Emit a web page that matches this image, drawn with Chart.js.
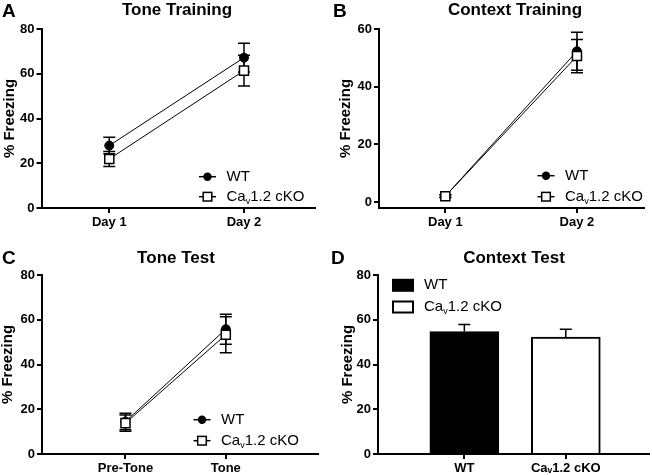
<!DOCTYPE html>
<html>
<head>
<meta charset="utf-8">
<script src="https://cdn.jsdelivr.net/npm/chart.js@4.4.0/dist/chart.umd.min.js"></script>
<style>
  body { margin: 0; background: #fff; }
  canvas { position: absolute; }
</style>
</head>
<body>
<canvas id="toneTraining" width="326" height="237" style="left:0;top:0"></canvas>
<canvas id="contextTraining" width="326" height="237" style="left:326px;top:0"></canvas>
<canvas id="toneTest" width="326" height="238" style="left:0;top:237px"></canvas>
<canvas id="contextTest" width="326" height="238" style="left:326px;top:237px"></canvas>
<script>
// data (mean, SEM)
const groupNames = ['WT', 'Ca\u1D651.2 cKO'];
const trainingDays = ['Day 1', 'Day 2'];
const testPhases = ['Pre-Tone', 'Tone'];

const toneTrainingWT = [27.9, 67.2];
const toneTrainingWTErr = [3.7, 6.4];
const toneTrainingKO = [21.9, 61.4];
const toneTrainingKOErr = [3.4, 6.9];

const contextTrainingWT = [2.0, 52.3];
const contextTrainingWTErr = [0.5, 6.6];
const contextTrainingKO = [2.0, 50.6];
const contextTrainingKOErr = [0.5, 5.8];

const toneTestWT = [14.5, 55.8];
const toneTestWTErr = [3.7, 6.7];
const toneTestKO = [13.8, 53.3];
const toneTestKOErr = [3.6, 8.0];

const contextTestMeans = [54.7, 52.3];
const contextTestErr = [3.2, 3.4];

const ticks80 = [0, 20, 40, 60, 80];
const ticks60 = [0, 20, 40, 60];

const FONT = "'Liberation Sans', Arial, Helvetica, sans-serif";
Chart.defaults.font.family = FONT;
Chart.defaults.color = '#000';
Chart.defaults.animation = false;
Chart.defaults.plugins.legend.display = false;
Chart.defaults.plugins.tooltip.enabled = false;

function toXY(vals) {
  return vals.map((v, i) => ({ x: i + 1, y: v }));
}

// label with the small "v" of Cav drawn as a subscript
function drawLabel(ctx, text, x, y, size) {
  const parts = text.split('\u1D65');
  ctx.textAlign = 'left';
  ctx.font = size + 'px ' + FONT;
  ctx.fillText(parts[0], x, y);
  if (parts.length < 2) return;
  x += ctx.measureText(parts[0]).width;
  ctx.font = Math.round(size * 0.62) + 'px ' + FONT;
  ctx.fillText('v', x, y + size * 0.3);
  x += ctx.measureText('v').width;
  ctx.font = size + 'px ' + FONT;
  ctx.fillText(parts[1], x, y);
}

const errorBars = {
  id: 'errorBars',
  beforeDatasetsDraw(chart) {
    const ctx = chart.ctx;
    const ys = chart.scales.y;
    ctx.save();
    ctx.strokeStyle = '#000';
    ctx.lineWidth = 1.5;
    chart.data.datasets.forEach((ds, i) => {
      if (!ds.errors) return;
      chart.getDatasetMeta(i).data.forEach((el, j) => {
        const v = ds.data[j].y;
        const e = ds.errors[j];
        const top = ys.getPixelForValue(v + e);
        const bot = ds.upOnly ? ys.getPixelForValue(v) : ys.getPixelForValue(v - e);
        ctx.beginPath();
        ctx.moveTo(el.x, top); ctx.lineTo(el.x, bot);
        ctx.moveTo(el.x - 6, top); ctx.lineTo(el.x + 6, top);
        if (!ds.upOnly) { ctx.moveTo(el.x - 6, bot); ctx.lineTo(el.x + 6, bot); }
        ctx.stroke();
      });
    });
    ctx.restore();
  }
};

const panelDecor = {
  id: 'panelDecor',
  afterDraw(chart, args, o) {
    const ctx = chart.ctx;
    ctx.save();
    ctx.fillStyle = '#000';
    ctx.strokeStyle = '#000';
    ctx.textBaseline = 'middle';
    ctx.textAlign = 'left';
    ctx.font = 'bold 19px ' + FONT;
    ctx.fillText(o.letter, o.letterX, o.letterY);
    ctx.textAlign = 'center';
    ctx.font = 'bold 17px ' + FONT;
    ctx.fillText(o.title, o.titleX, o.titleY);

    groupNames.forEach((name, i) => {
      const y = o.legendY + i * o.legendGap;
      if (o.boxes) {
        const ds = chart.data.datasets[0];
        ctx.fillStyle = ds.backgroundColor[i];
        ctx.fillRect(o.legendX, y - 5.5, 20, 11);
        ctx.lineWidth = 2;
        ctx.strokeRect(o.legendX, y - 5.5, 20, 11);
        ctx.fillStyle = '#000';
        drawLabel(ctx, name, o.legendX + 31, y, 15);
      } else {
        const ds = chart.data.datasets[i];
        const mx = o.legendX;
        ctx.lineWidth = 1.5;
        ctx.beginPath();
        ctx.moveTo(mx - 8.5, y); ctx.lineTo(mx + 8.5, y);
        ctx.stroke();
        if (ds.pointStyle === 'circle') {
          ctx.beginPath();
          ctx.arc(mx, y, 4.2, 0, Math.PI * 2);
          ctx.fill();
        } else {
          ctx.fillStyle = '#fff';
          ctx.fillRect(mx - 4.3, y - 4.3, 8.6, 8.6);
          ctx.strokeRect(mx - 4.3, y - 4.3, 8.6, 8.6);
          ctx.fillStyle = '#000';
        }
        drawLabel(ctx, name, mx + 19, y, 15);
      }
    });
    ctx.restore();
  }
};

function yAxis(min, max, tickValues, width, titlePad) {
  return {
    type: 'linear', min: min, max: max,
    afterBuildTicks: s => { s.ticks = tickValues.map(v => ({ value: v })); },
    afterFit: s => { s.width = width; },
    grid: { drawOnChartArea: false, tickLength: 5, color: '#000', lineWidth: 2 },
    border: { color: '#000', width: 2 },
    ticks: { font: { size: 13, weight: 'bold' }, color: '#000', padding: 2 },
    title: { display: true, text: '% Freezing', color: '#000',
             font: { size: 15, weight: 'bold', lineHeight: 1 },
             padding: { top: titlePad, bottom: 0 } }
  };
}

function xAxis(min, max, labels, height) {
  return {
    type: 'linear', min: min, max: max, offset: false,
    afterBuildTicks: s => { s.ticks = labels.map((_, i) => ({ value: i + 1 })); },
    afterFit: s => { s.height = height; },
    grid: { drawOnChartArea: false, offset: false, tickLength: 5, color: '#000', lineWidth: 2 },
    border: { color: '#000', width: 2 },
    ticks: { font: { size: 13, weight: 'bold' }, color: '#000', padding: 2,
             autoSkip: false, maxRotation: 0, callback: v => labels[v - 1] }
  };
}

function lineDatasets(wt, wtErr, ko, koErr) {
  return [
    { label: groupNames[0], data: toXY(wt), errors: wtErr, order: 1,
      borderColor: '#000', borderWidth: 1, pointStyle: 'circle', pointRadius: 4.5,
      pointBackgroundColor: '#000', pointBorderColor: '#000', pointBorderWidth: 1 },
    { label: groupNames[1], data: toXY(ko), errors: koErr, order: 0,
      borderColor: '#000', borderWidth: 1, pointStyle: 'rect', pointRadius: 6.4,
      pointBackgroundColor: '#fff', pointBorderColor: '#000', pointBorderWidth: 1.5 }
  ];
}

new Chart(document.getElementById('toneTraining'), {
  type: 'line',
  data: { datasets: lineDatasets(toneTrainingWT, toneTrainingWTErr, toneTrainingKO, toneTrainingKOErr) },
  options: {
    responsive: false,
    layout: { padding: { top: 29, right: 11, bottom: 0, left: 0 } },
    scales: { x: xAxis(0.497, 2.527, trainingDays, 29), y: yAxis(0, 80, ticks80, 41.5, 2.5) },
    plugins: { panelDecor: { letter: 'A', letterX: 2, letterY: 12, title: 'Tone Training', titleX: 177, titleY: 10,
                             legendX: 207.5, legendY: 176.7, legendGap: 20 } }
  },
  plugins: [errorBars, panelDecor]
});

new Chart(document.getElementById('contextTraining'), {
  type: 'line',
  data: { datasets: lineDatasets(contextTrainingWT, contextTrainingWTErr, contextTrainingKO, contextTrainingKOErr) },
  options: {
    responsive: false,
    layout: { padding: { top: 29, right: 1, bottom: 0, left: 0 } },
    scales: { x: xAxis(0.496, 2.51, trainingDays, 29), y: yAxis(-2.1, 60, ticks60, 53, 12.5) },
    plugins: { panelDecor: { letter: 'B', letterX: 7, letterY: 12, title: 'Context Training', titleX: 189, titleY: 10,
                             legendX: 220, legendY: 175.7, legendGap: 21 } }
  },
  plugins: [errorBars, panelDecor]
});

new Chart(document.getElementById('toneTest'), {
  type: 'line',
  data: { datasets: lineDatasets(toneTestWT, toneTestWTErr, toneTestKO, toneTestKOErr) },
  options: {
    responsive: false,
    layout: { padding: { top: 38, right: 6, bottom: 0, left: 0 } },
    scales: { x: xAxis(0.168, 2.92, testPhases, 21), y: yAxis(0, 80, ticks80, 42, 0.5) },
    plugins: { panelDecor: { letter: 'C', letterX: 2, letterY: 22, title: 'Tone Test', titleX: 176, titleY: 21,
                             legendX: 202, legendY: 182.7, legendGap: 21 } }
  },
  plugins: [errorBars, panelDecor]
});

new Chart(document.getElementById('contextTest'), {
  type: 'bar',
  data: {
    datasets: [{
      label: 'Context Test', data: toXY(contextTestMeans), errors: contextTestErr, upOnly: true,
      backgroundColor: ['#000', '#fff'], borderColor: '#000', borderWidth: 2,
      borderSkipped: 'start', barThickness: 69
    }]
  },
  options: {
    responsive: false,
    layout: { padding: { top: 38, right: 3, bottom: 0, left: 0 } },
    scales: { x: xAxis(0.149, 2.82, groupNames, 21), y: yAxis(0, 80, ticks80, 52, 14) },
    plugins: { panelDecor: { letter: 'D', letterX: 5, letterY: 22, title: 'Context Test', titleX: 188, titleY: 21,
                             boxes: true, legendX: 67, legendY: 48.3, legendGap: 21.7 } }
  },
  plugins: [errorBars, panelDecor]
});
</script>
</body>
</html>
